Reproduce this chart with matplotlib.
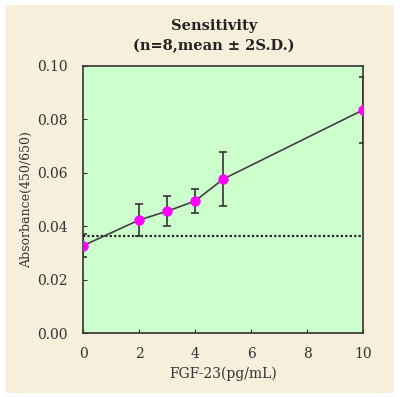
import matplotlib.pyplot as plt
from matplotlib.patches import Rectangle

conc = [0, 2, 3, 4, 5, 10]
absorb = [0.0327, 0.0423, 0.0456, 0.0494, 0.0576, 0.0835]
sd2 = [0.0043, 0.0060, 0.0057, 0.0046, 0.0100, 0.0122]
cutoff = 0.0364

xticks = [0, 2, 4, 6, 8, 10]
yticks = [0.00, 0.02, 0.04, 0.06, 0.08, 0.10]

plt.rcParams['font.family'] = ['DejaVu Serif']

fig = plt.figure(figsize=(4, 3.97), dpi=100, facecolor='white')
fig.patches.append(Rectangle((0.012, 0.01), 0.973, 0.978, transform=fig.transFigure,
                             facecolor='#f7eedb', edgecolor='none', zorder=-1))

ax = fig.add_axes([0.2075, 0.161, 0.70, 0.673])
ax.set_facecolor('#ccffcc')

ax.axhline(cutoff, color='#222222', lw=1.6, ls=(0, (1, 1)), zorder=2)
ax.errorbar(conc, absorb, yerr=sd2, fmt='none', ecolor='#333333', elinewidth=1.2,
            capsize=3, capthick=1.2, zorder=3)
ax.plot(conc, absorb, color='#404040', lw=1.2, zorder=3)
ax.plot(conc, absorb, 'o', color='#ff00ff', ms=6.5, zorder=4)

ax.set_xlim(0, 10)
ax.set_ylim(0, 0.10)
ax.set_xticks(xticks)
ax.set_yticks(yticks)
ax.set_yticklabels(['%.2f' % v for v in yticks])
ax.tick_params(direction='in', length=3, labelsize=10, colors='#333333')
ax.tick_params(axis='y', pad=11)
ax.tick_params(axis='x', pad=10)
for s in ax.spines.values():
    s.set_color('#333333')
    s.set_linewidth(1.2)

ax.set_xlabel('FGF-23(pg/mL)', fontsize=10, color='#333333', labelpad=4)
ax.set_ylabel('Absorbance(450/650)', fontsize=9, color='#333333', labelpad=3)

fig.text(0.535, 0.935, 'Sensitivity', ha='center', va='center', fontsize=10.5,
         fontweight='bold', color='#222222')
fig.text(0.535, 0.885, '(n=8,mean \u00b1 2S.D.)', ha='center', va='center', fontsize=10.5,
         fontweight='bold', color='#222222')

fig.savefig('out.png', dpi=100, facecolor=fig.get_facecolor())
